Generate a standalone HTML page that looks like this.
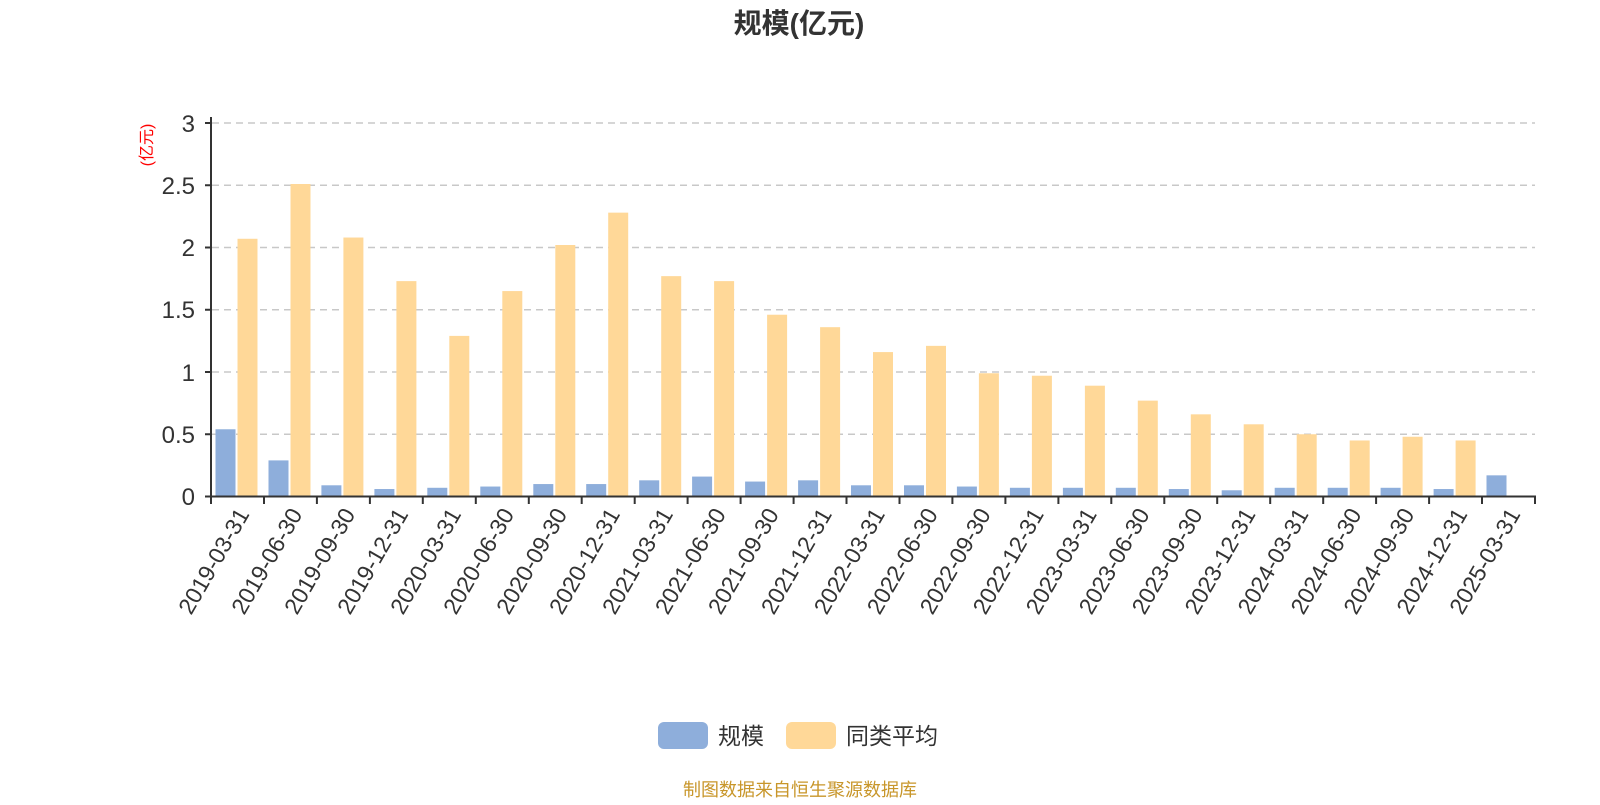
<!DOCTYPE html>
<html><head><meta charset="utf-8"><style>
html,body{margin:0;padding:0;background:#fff;}
svg text{font-family:"Liberation Sans","Noto Sans CJK SC",sans-serif;}
</style></head><body>
<svg width="1600" height="800" viewBox="0 0 1600 800" xmlns="http://www.w3.org/2000/svg">
<text x="799" y="33" text-anchor="middle" font-size="28" font-weight="bold" fill="#333">规模(亿元)</text>
<text transform="translate(152,145) rotate(-90)" text-anchor="middle" font-size="16" fill="#ff0000">(亿元)</text>
<g stroke="#c8c8c8" stroke-width="1.5" stroke-dasharray="7,5">
<line x1="212" x2="1535" y1="434.25" y2="434.25"/><line x1="212" x2="1535" y1="372" y2="372"/><line x1="212" x2="1535" y1="309.75" y2="309.75"/><line x1="212" x2="1535" y1="247.5" y2="247.5"/><line x1="212" x2="1535" y1="185.25" y2="185.25"/><line x1="212" x2="1535" y1="123" y2="123"/>
</g>
<g font-size="24" fill="#333" text-anchor="end">
<text x="195" y="505">0</text><text x="195" y="443">0.5</text><text x="195" y="381">1</text><text x="195" y="318">1.5</text><text x="195" y="256">2</text><text x="195" y="194">2.5</text><text x="195" y="132">3</text>
</g>
<g transform="translate(0,496.5) scale(1,-124.5)">
<g fill="#8eaedb">
<rect x="215.5" y="0" width="20" height="0.54"/><rect x="268.5" y="0" width="20" height="0.29"/><rect x="321.4" y="0" width="20" height="0.09"/><rect x="374.4" y="0" width="20" height="0.06"/><rect x="427.3" y="0" width="20" height="0.07"/><rect x="480.3" y="0" width="20" height="0.08"/><rect x="533.3" y="0" width="20" height="0.1"/><rect x="586.2" y="0" width="20" height="0.1"/><rect x="639.2" y="0" width="20" height="0.13"/><rect x="692.1" y="0" width="20" height="0.16"/><rect x="745.1" y="0" width="20" height="0.12"/><rect x="798.1" y="0" width="20" height="0.13"/><rect x="851" y="0" width="20" height="0.09"/><rect x="904" y="0" width="20" height="0.09"/><rect x="956.9" y="0" width="20" height="0.08"/><rect x="1009.9" y="0" width="20" height="0.07"/><rect x="1062.9" y="0" width="20" height="0.07"/><rect x="1115.8" y="0" width="20" height="0.07"/><rect x="1168.8" y="0" width="20" height="0.06"/><rect x="1221.7" y="0" width="20" height="0.05"/><rect x="1274.7" y="0" width="20" height="0.07"/><rect x="1327.7" y="0" width="20" height="0.07"/><rect x="1380.6" y="0" width="20" height="0.07"/><rect x="1433.6" y="0" width="20" height="0.06"/><rect x="1486.5" y="0" width="20" height="0.17"/>
</g>
<g fill="#ffd898">
<rect x="237.5" y="0" width="20" height="2.07"/><rect x="290.5" y="0" width="20" height="2.51"/><rect x="343.4" y="0" width="20" height="2.08"/><rect x="396.4" y="0" width="20" height="1.73"/><rect x="449.3" y="0" width="20" height="1.29"/><rect x="502.3" y="0" width="20" height="1.65"/><rect x="555.3" y="0" width="20" height="2.02"/><rect x="608.2" y="0" width="20" height="2.28"/><rect x="661.2" y="0" width="20" height="1.77"/><rect x="714.1" y="0" width="20" height="1.73"/><rect x="767.1" y="0" width="20" height="1.46"/><rect x="820.1" y="0" width="20" height="1.36"/><rect x="873" y="0" width="20" height="1.16"/><rect x="926" y="0" width="20" height="1.21"/><rect x="978.9" y="0" width="20" height="0.99"/><rect x="1031.9" y="0" width="20" height="0.97"/><rect x="1084.9" y="0" width="20" height="0.89"/><rect x="1137.8" y="0" width="20" height="0.77"/><rect x="1190.8" y="0" width="20" height="0.66"/><rect x="1243.7" y="0" width="20" height="0.58"/><rect x="1296.7" y="0" width="20" height="0.5"/><rect x="1349.7" y="0" width="20" height="0.45"/><rect x="1402.6" y="0" width="20" height="0.48"/><rect x="1455.6" y="0" width="20" height="0.45"/>
</g>
</g>
<g stroke="#333" stroke-width="2">
<line x1="211" y1="117" x2="211" y2="497"/>
<line x1="205" y1="123" x2="211" y2="123"/><line x1="205" y1="185.25" x2="211" y2="185.25"/><line x1="205" y1="247.5" x2="211" y2="247.5"/><line x1="205" y1="309.75" x2="211" y2="309.75"/><line x1="205" y1="372" x2="211" y2="372"/><line x1="205" y1="434.25" x2="211" y2="434.25"/><line x1="205" y1="496.5" x2="211" y2="496.5"/>
<line x1="210" y1="496.5" x2="1536" y2="496.5"/>
<line x1="211" y1="496" x2="211" y2="504"/><line x1="264" y1="496" x2="264" y2="504"/><line x1="316.9" y1="496" x2="316.9" y2="504"/><line x1="369.9" y1="496" x2="369.9" y2="504"/><line x1="422.8" y1="496" x2="422.8" y2="504"/><line x1="475.8" y1="496" x2="475.8" y2="504"/><line x1="528.8" y1="496" x2="528.8" y2="504"/><line x1="581.7" y1="496" x2="581.7" y2="504"/><line x1="634.7" y1="496" x2="634.7" y2="504"/><line x1="687.6" y1="496" x2="687.6" y2="504"/><line x1="740.6" y1="496" x2="740.6" y2="504"/><line x1="793.6" y1="496" x2="793.6" y2="504"/><line x1="846.5" y1="496" x2="846.5" y2="504"/><line x1="899.5" y1="496" x2="899.5" y2="504"/><line x1="952.4" y1="496" x2="952.4" y2="504"/><line x1="1005.4" y1="496" x2="1005.4" y2="504"/><line x1="1058.4" y1="496" x2="1058.4" y2="504"/><line x1="1111.3" y1="496" x2="1111.3" y2="504"/><line x1="1164.3" y1="496" x2="1164.3" y2="504"/><line x1="1217.2" y1="496" x2="1217.2" y2="504"/><line x1="1270.2" y1="496" x2="1270.2" y2="504"/><line x1="1323.2" y1="496" x2="1323.2" y2="504"/><line x1="1376.1" y1="496" x2="1376.1" y2="504"/><line x1="1429.1" y1="496" x2="1429.1" y2="504"/><line x1="1482" y1="496" x2="1482" y2="504"/><line x1="1535" y1="496" x2="1535" y2="504"/>
</g>
<g font-size="23" fill="#333" text-anchor="end">
<text transform="translate(243,510) rotate(-60)" dy="0.35em">2019-03-31</text>
<text transform="translate(296,510) rotate(-60)" dy="0.35em">2019-06-30</text>
<text transform="translate(348.9,510) rotate(-60)" dy="0.35em">2019-09-30</text>
<text transform="translate(401.9,510) rotate(-60)" dy="0.35em">2019-12-31</text>
<text transform="translate(454.8,510) rotate(-60)" dy="0.35em">2020-03-31</text>
<text transform="translate(507.8,510) rotate(-60)" dy="0.35em">2020-06-30</text>
<text transform="translate(560.8,510) rotate(-60)" dy="0.35em">2020-09-30</text>
<text transform="translate(613.7,510) rotate(-60)" dy="0.35em">2020-12-31</text>
<text transform="translate(666.7,510) rotate(-60)" dy="0.35em">2021-03-31</text>
<text transform="translate(719.6,510) rotate(-60)" dy="0.35em">2021-06-30</text>
<text transform="translate(772.6,510) rotate(-60)" dy="0.35em">2021-09-30</text>
<text transform="translate(825.6,510) rotate(-60)" dy="0.35em">2021-12-31</text>
<text transform="translate(878.5,510) rotate(-60)" dy="0.35em">2022-03-31</text>
<text transform="translate(931.5,510) rotate(-60)" dy="0.35em">2022-06-30</text>
<text transform="translate(984.4,510) rotate(-60)" dy="0.35em">2022-09-30</text>
<text transform="translate(1037.4,510) rotate(-60)" dy="0.35em">2022-12-31</text>
<text transform="translate(1090.4,510) rotate(-60)" dy="0.35em">2023-03-31</text>
<text transform="translate(1143.3,510) rotate(-60)" dy="0.35em">2023-06-30</text>
<text transform="translate(1196.3,510) rotate(-60)" dy="0.35em">2023-09-30</text>
<text transform="translate(1249.2,510) rotate(-60)" dy="0.35em">2023-12-31</text>
<text transform="translate(1302.2,510) rotate(-60)" dy="0.35em">2024-03-31</text>
<text transform="translate(1355.2,510) rotate(-60)" dy="0.35em">2024-06-30</text>
<text transform="translate(1408.1,510) rotate(-60)" dy="0.35em">2024-09-30</text>
<text transform="translate(1461.1,510) rotate(-60)" dy="0.35em">2024-12-31</text>
<text transform="translate(1514,510) rotate(-60)" dy="0.35em">2025-03-31</text>
</g>
<rect x="658" y="722" width="50" height="27" rx="6" fill="#8eaedb"/>
<text x="718" y="744" font-size="23" fill="#333">规模</text>
<rect x="786" y="722" width="50" height="27" rx="6" fill="#ffd898"/>
<text x="846" y="744" font-size="23" fill="#333">同类平均</text>
<text x="800" y="796" text-anchor="middle" font-size="18" fill="#c8962a">制图数据来自恒生聚源数据库</text>
</svg>
</body></html>
